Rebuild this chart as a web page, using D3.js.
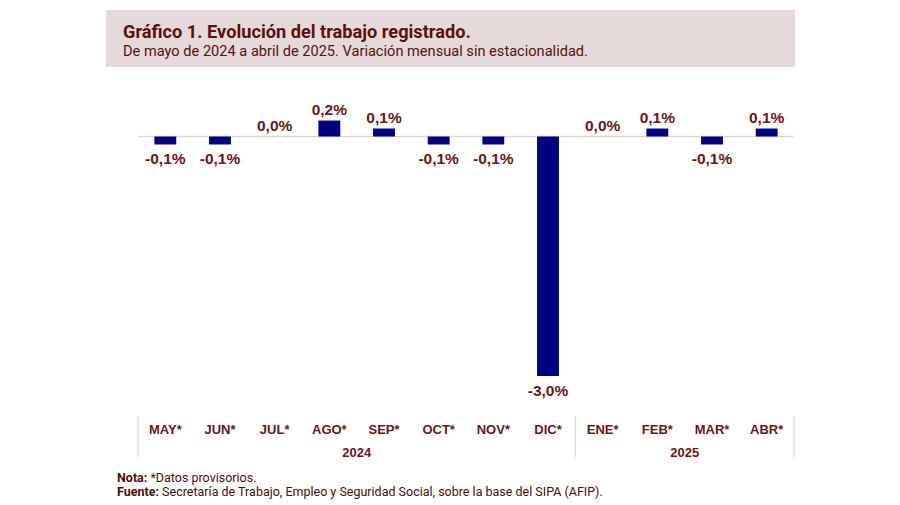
<!DOCTYPE html>
<html>
<head>
<meta charset="utf-8">
<script src="https://cdn.jsdelivr.net/npm/d3@7"></script>
<style>
  body { margin: 0; background: #fff; }
  svg { display: block; }
</style>
</head>
<body>
<div id="chart"></div>
<script>
const months = ["MAY*", "JUN*", "JUL*", "AGO*", "SEP*", "OCT*", "NOV*", "DIC*", "ENE*", "FEB*", "MAR*", "ABR*"];
const values = [-0.1, -0.1, 0.0, 0.2, 0.1, -0.1, -0.1, -3.0, 0.0, 0.1, -0.1, 0.1];
const years = ["2024", "2025"];
const yearMonths = [8, 4]; /* months in each year group */

const W = 900, H = 505;
const maroon = "#6b1515";

const svg = d3.select("#chart").append("svg")
  .attr("width", W)
  .attr("height", H);

/* header box */
svg.append("rect")
  .attr("x", 106).attr("y", 10)
  .attr("width", 689).attr("height", 57)
  .attr("fill", "#e6d9d9");

svg.append("text")
  .attr("x", 123).attr("y", 38)
  .attr("font-family", "Roboto, sans-serif")
  .attr("font-weight", "bold")
  .attr("font-size", 18.2)
  .attr("fill", "#5a1010")
  .text("Gráfico 1. Evolución del trabajo registrado.");

svg.append("text")
  .attr("x", 123).attr("y", 56)
  .attr("font-family", "Roboto, sans-serif")
  .attr("font-size", 14.6)
  .attr("fill", "#5a1010")
  .text("De mayo de 2024 a abril de 2025. Variación mensual sin estacionalidad.");

/* scales */
const x = d3.scaleBand()
  .domain(months)
  .range([138, 794])
  .paddingInner(0.6)
  .paddingOuter(0.3);

const y = d3.scaleLinear()
  .domain([-3, 0])
  .range([376, 136.5]);

/* zero line */
svg.append("line")
  .attr("x1", 138).attr("x2", 794)
  .attr("y1", y(0)).attr("y2", y(0))
  .attr("stroke", "#e3d3d3")
  .attr("stroke-width", 1.5);

/* bars */
svg.selectAll("rect.bar")
  .data(values)
  .join("rect")
    .attr("class", "bar")
    .attr("x", (d, i) => x(months[i]))
    .attr("width", x.bandwidth())
    .attr("y", d => y(Math.max(0, d)))
    .attr("height", d => Math.abs(y(d) - y(0)))
    .attr("fill", "#000083");

/* value labels */
const fmt = d => d3.format(".1f")(d).replace(".", ",").replace("−", "-") + "%";
svg.selectAll("text.val")
  .data(values)
  .join("text")
    .attr("class", "val")
    .attr("x", (d, i) => x(months[i]) + x.bandwidth() / 2)
    .attr("y", d => d < 0 ? y(d) + 20 : y(d) - 6)
    .attr("text-anchor", "middle")
    .attr("font-family", "'Liberation Sans', Arial, sans-serif")
    .attr("font-weight", "bold")
    .attr("font-size", 15.5)
    .attr("fill", maroon)
    .text(fmt);

/* category axis */
const axisG = svg.append("g")
  .attr("transform", "translate(0,425)")
  .call(d3.axisBottom(x).tickSize(0).tickPadding(0));
axisG.select(".domain").remove();
axisG.selectAll("text")
  .attr("font-family", "'Liberation Sans', Arial, sans-serif")
  .attr("font-weight", "bold")
  .attr("font-size", 13)
  .attr("fill", maroon);

/* year groups and separators */
const x0 = 138;
let acc = 0;
const bounds = [x0];
yearMonths.forEach((n, i) => {
  const start = x0 + acc * (656 / 12);
  acc += n;
  const end = x0 + acc * (656 / 12);
  bounds.push(end);
  svg.append("text")
    .attr("x", (start + end) / 2)
    .attr("y", 457)
    .attr("text-anchor", "middle")
    .attr("font-family", "'Liberation Sans', Arial, sans-serif")
    .attr("font-weight", "bold")
    .attr("font-size", 13)
    .attr("fill", maroon)
    .text(years[i]);
});
svg.selectAll("line.sep")
  .data(bounds)
  .join("line")
    .attr("class", "sep")
    .attr("x1", d => d).attr("x2", d => d)
    .attr("y1", 416).attr("y2", 457)
    .attr("stroke", "#e0d6d6")
    .attr("stroke-width", 1.2);

/* notes */
const notes = [
  ["Nota:", " *Datos provisorios."],
  ["Fuente:", " Secretaría de Trabajo, Empleo y Seguridad Social, sobre la base del SIPA (AFIP)."]
];
notes.forEach((n, i) => {
  const t = svg.append("text")
    .attr("x", 117)
    .attr("y", 482 + i * 14)
    .attr("font-family", "Roboto, sans-serif")
    .attr("font-size", 12.5)
    .attr("fill", "#4a0d0d");
  t.append("tspan").attr("font-weight", "bold").text(n[0]);
  t.append("tspan").text(n[1]);
});
</script>
</body>
</html>
